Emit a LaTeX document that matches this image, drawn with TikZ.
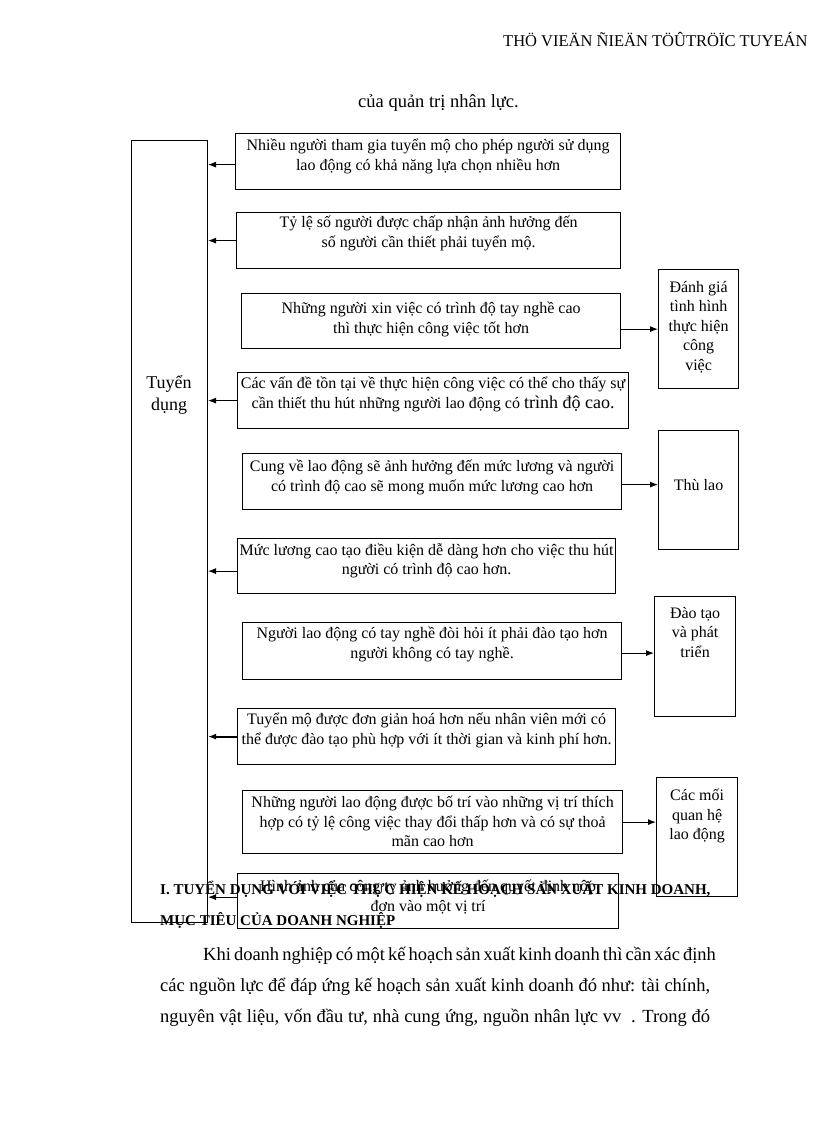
\documentclass[tikz,border=0pt]{standalone}
\usepackage{fontspec}
\setmainfont{Liberation Serif}
\usetikzlibrary{positioning,arrows.meta}

\begin{document}
\begin{tikzpicture}[x=1pt,y=-1pt,
        box/.style={draw, line width=1.2pt, anchor=north west, inner sep=0pt},
        boxtext/.style={align=center, inner sep=0pt, font=\fontsize{16}{19.5}\selectfont},
        arr/.style={line width=1pt, -{Latex[length=8pt,width=6pt]}},
        body/.style={anchor=base west, inner sep=0pt, font=\fontsize{18.5}{22}\selectfont},
        head/.style={anchor=base west, inner sep=0pt, font=\bfseries\fontsize{15}{17}\selectfont}]
        \useasboundingbox (0,0) rectangle (816,1123);

        % page text
        \node[body, font=\fontsize{16.5}{20}\selectfont] (pagehead) at (503,47) {THÖ VIEÄN ÑIEÄN TÖÛTRÖÏC TUYEÁN};
        \node[body] (intro) at (358,108) {của quản trị nhân lực.};

        % tuyen dung
        \node[box, line width=1pt, minimum width=76pt, minimum height=782pt] (td) at (131,140) {};
        \node[boxtext, font=\fontsize{18}{22}\selectfont] (tdtext) at (169,395) {Tuyển\\dụng};

        % left boxes
        \node[box, minimum width=385pt, minimum height=56pt] (b1) at (235,133) {};
        \node[boxtext, below=6pt of b1.north] (t1) {Nhiều người tham gia tuyển mộ cho phép người sử dụng\\lao động có khả năng lựa chọn nhiều hơn};
        \node[box, minimum width=384pt, minimum height=56pt] (b2) at (236,212) {};
        \node[boxtext, below=4pt of b2.north] (t2) {Tỷ lệ số người được chấp nhận ảnh hưởng đến\\số người cần thiết phải tuyển mộ.};
        \node[box, minimum width=379pt, minimum height=55pt] (b3) at (241,293) {};
        \node[boxtext, below=9pt of b3.north] (t3) {Những người xin việc có trình độ tay nghề cao\\thì thực hiện công việc tốt hơn};
        \node[box, minimum width=391pt, minimum height=56pt] (b4) at (237,372) {};
        \node[boxtext, below=5pt of b4.north] (t4) {Các vấn đề tồn tại về thực hiện công việc có thể cho thấy sự\\cần thiết thu hút những người lao động có {\fontsize{18}{19.5}\selectfont trình độ cao.}};
        \node[box, minimum width=379pt, minimum height=56pt] (b5) at (242,453) {};
        \node[boxtext, below=7pt of b5.north] (t5) {Cung về lao động sẽ ảnh hưởng đến mức lương và người\\có trình độ cao sẽ mong muốn mức lương cao hơn};
        \node[box, minimum width=378pt, minimum height=55pt] (b6) at (237,538) {};
        \node[boxtext, below=5pt of b6.north] (t6) {Mức lương cao tạo điều kiện dễ dàng hơn cho việc thu hút\\người có trình độ cao hơn.};
        \node[box, minimum width=379pt, minimum height=57pt] (b7) at (242,622) {};
        \node[boxtext, below=5pt of b7.north] (t7) {Người lao động có tay nghề đòi hỏi ít phải đào tạo hơn\\người không có tay nghề.};
        \node[box, minimum width=378pt, minimum height=56pt] (b8) at (237,708) {};
        \node[boxtext, below=5pt of b8.north] (t8) {Tuyển mộ được đơn giản hoá hơn nếu nhân viên mới có\\thể được đào tạo phù hợp với ít thời gian và kinh phí hơn.};
        \node[box, minimum width=380pt, minimum height=63pt] (b9) at (242,790) {};
        \node[boxtext, below=6pt of b9.north] (t9) {Những người lao động được bố trí vào những vị trí thích\\hợp có tỷ lệ công việc thay đổi thấp hơn và có sự thoả\\mãn cao hơn};
        \node[box, minimum width=381pt, minimum height=55pt] (b10) at (237,873) {};
        \node[boxtext, below=7pt of b10.north] (t10) {Hình ảnh của công ty ảnh hưởng đến quyết định nộp\\đơn vào một vị trí};

        % right boxes
        \node[box, minimum width=80pt, minimum height=119pt] (r1) at (658,269) {};
        \node[boxtext, below=12pt of r1.north] (s1) {Đánh giá\\tình hình\\thực hiện\\công\\việc};
        \node[box, minimum width=80pt, minimum height=119pt] (r2) at (658,430) {};
        \node[boxtext] (s2) at ([yshift=5pt]r2.center) {Thù lao};
        \node[box, minimum width=81pt, minimum height=120pt] (r3) at (654,596) {};
        \node[boxtext, below=11pt of r3.north] (s3) {Đào tạo\\và phát\\triển};
        \node[box, minimum width=81pt, minimum height=119pt] (r4) at (656,777) {};
        \node[boxtext, below=12pt of r4.north] (s4) {Các mối\\quan hệ\\lao động};

        % arrows
        \draw[arr] ([yshift=-3pt]b1.west) -- ([yshift=-3pt]b1.west -| td.east);
        \draw[arr] (b2.west) -- (b2.west -| td.east);
        \draw[arr] (b4.west) -- (b4.west -| td.east);
        \draw[arr] ([yshift=-5pt]b6.west) -- ([yshift=-5pt]b6.west -| td.east);
        \draw[arr, line width=2pt] (b8.west) -- (b8.west -| td.east);
        \draw[arr] ([yshift=4pt]b10.west) -- ([yshift=4pt]b10.west -| td.east);
        \draw[arr] (b3.east |- r1.west) -- (r1.west);
        \draw[arr] ([yshift=-3pt]b5.east) -- ([yshift=-3pt]b5.east -| r2.west);
        \draw[arr] ([yshift=-2pt]b7.east) -- ([yshift=-2pt]b7.east -| r3.west);
        \draw[arr] (b9.east) -- (b9.east -| r4.west);

        % section heading and paragraph
        \node[head] (h1) at (160,894) {I. TUYỂN DỤNG VỚI VIỆC THỰC HIỆN KẾ HOẠCH SẢN XUẤT KINH DOANH,};
        \node[head] (h2) at (160,925) {MỤC TIÊU CỦA DOANH NGHIỆP};
        \node[body] (p1) at (203,960) {\makebox[507pt][s]{Khi doanh nghiệp có một kế hoạch sản xuất kinh doanh thì cần xác định}};
        \node[body] (p2) at (160,991) {\makebox[550pt][s]{các nguồn lực để đáp ứng kế hoạch sản xuất kinh doanh đó như: tài chính,}};
        \node[body] (p3) at (160,1022) {\makebox[550pt][s]{nguyên vật liệu, vốn đầu tư, nhà cung ứng, nguồn nhân lực vv\ \ . Trong đó}};
\end{tikzpicture}
\end{document}
